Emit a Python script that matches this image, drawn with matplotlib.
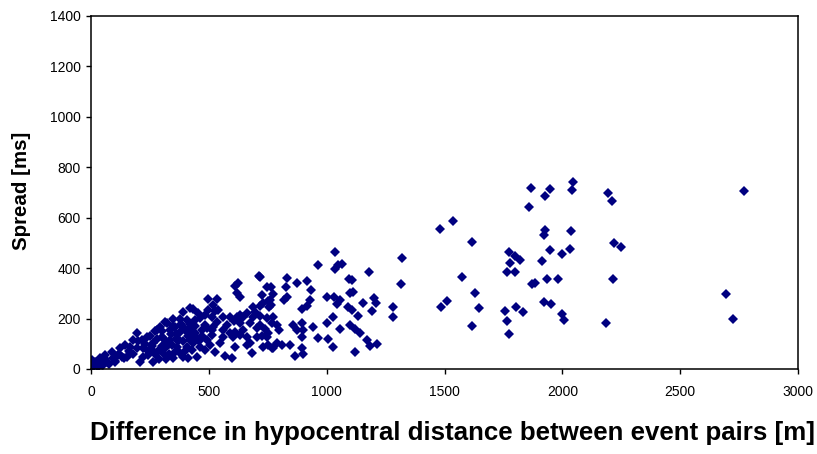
import matplotlib.pyplot as plt

plt.rcParams['font.family'] = ['Liberation Sans', 'DejaVu Sans']

# distance difference [m] and spread [ms]
dist = [
    1867, 1948, 1926, 2047, 2042, 2195, 2209, 1860, 1481, 1537,
    1926, 1922, 2035, 1615, 2220, 2249, 1948, 2033, 2000, 1774,
    1799, 1820, 1778, 1915, 1764, 1799, 1576, 1870, 1884, 1934,
    1983, 2214, 1629, 1509, 1485, 1648, 1922, 1952, 1757, 1803,
    1834, 1766, 2000, 2008, 2184, 1615, 1774, 2771, 2693, 2723,
    1321, 1314, 1280, 1283,
    1035, 962, 1049, 1035, 1064, 1181, 1096, 1106, 915, 873,
    830, 827, 748, 717, 932, 1099, 1113, 1000, 1031, 1057,
    1043, 929, 915, 894, 820, 830, 760, 757, 1201, 1209,
    1191, 1155, 1092, 1106, 1134, 1026, 717, 767, 799, 746,
    858, 894, 901, 873, 894, 943, 1000, 1057, 1099, 1120,
    1141, 1170, 1212, 964, 1007, 1028, 1120, 1184, 774, 809,
    844, 866, 901, 894,
    713, 625, 611, 618, 632, 762, 771, 750, 729, 764,
    533, 526, 434, 392, 561, 590, 618, 646, 661, 689,
    607, 632, 644, 703, 703, 724, 752, 661, 682, 604,
    611, 569, 597, 547, 561, 519, 533, 484, 463, 491,
    441, 434, 427, 449, 413, 392, 378, 364, 342, 321,
    314, 279, 300, 321, 264, 258, 264, 307, 356, 236,
    215, 194, 179, 194, 165, 144, 123, 116, 151, 88,
    95, 59, 67, 38, 17, 10, 31, 52, 5, 3,
    130, 102, 165, 222, 222, 208, 243, 314, 335, 364,
    378, 406, 420, 449, 463, 470, 491, 512, 505, 526,
    484, 392, 349, 420, 399, 512, 576, 590, 561, 675,
    689, 717, 746, 774, 788, 738, 788, 752, 729, 767,
    413, 434, 611, 632, 661, 675, 540, 519, 696, 717,
    724, 498, 484, 512, 455, 441, 406, 378, 356, 335,
    293, 498, 632,
    250, 280, 230, 270, 300, 330, 290, 360, 390, 410,
    440, 380, 350, 420, 300, 340, 160, 120, 75, 45,
    200, 260, 310, 350, 400, 430, 470, 240, 290, 330,
    370, 180, 140, 100, 60, 25, 460, 400, 320, 270,
]
spread = [
    719, 714, 686, 743, 710, 699, 666, 641, 555, 588,
    551, 531, 547, 502, 501, 483, 472, 475, 456, 463,
    448, 432, 422, 430, 386, 386, 366, 336, 342, 356,
    356, 356, 303, 271, 245, 243, 265, 258, 231, 245,
    225, 192, 218, 194, 181, 172, 138, 707, 297, 198,
    439, 336, 247, 207,
    465, 412, 412, 395, 415, 384, 356, 353, 350, 340,
    362, 326, 324, 366, 313, 303, 307, 287, 287, 274,
    258, 274, 250, 237, 274, 287, 274, 245, 280, 263,
    231, 261, 245, 234, 210, 205, 175, 181, 155, 128,
    175, 181, 155, 155, 128, 168, 181, 157, 175, 157,
    142, 115, 98, 122, 118, 86, 69, 91, 82, 95,
    95, 52, 59, 82,
    369, 340, 329, 300, 287, 324, 297, 271, 263, 254,
    276, 231, 239, 227, 205, 205, 207, 207, 221, 247,
    192, 181, 155, 161, 128, 131, 142, 95, 62, 126,
    86, 52, 42, 102, 155, 168, 188, 175, 201, 161,
    142, 102, 75, 49, 42, 168, 148, 122, 95, 181,
    188, 155, 128, 102, 102, 75, 29, 62, 69, 128,
    115, 142, 115, 82, 88, 95, 82, 56, 49, 69,
    42, 56, 29, 42, 29, 9, 9, 16, 23, 36,
    49, 29, 62, 82, 49, 29, 56, 82, 115, 88,
    62, 88, 115, 122, 88, 155, 115, 135, 95, 69,
    75, 49, 42, 241, 155, 155, 175, 142, 128, 181,
    205, 210, 201, 207, 175, 157, 102, 95, 86, 82,
    155, 135, 148, 135, 128, 102, 234, 254, 227, 250,
    293, 234, 214, 207, 223, 194, 194, 197, 168, 155,
    168, 278, 214,
    130, 120, 100, 60, 90, 60, 40, 140, 110, 130,
    170, 180, 200, 180, 150, 140, 70, 60, 20, 15,
    110, 90, 120, 170, 160, 150, 130, 70, 75, 100,
    110, 60, 45, 30, 40, 20, 110, 70, 40, 150,
]

x_ticks = [0, 500, 1000, 1500, 2000, 2500, 3000]
y_ticks = [0, 200, 400, 600, 800, 1000, 1200, 1400]

fig = plt.figure(figsize=(8.17, 4.54), dpi=100)
ax = fig.add_axes([91 / 817, 85 / 454, 707 / 817, 353 / 454])

ax.plot(dist, spread, linestyle='none', marker='D', markersize=5.0,
        color='#000080', markeredgewidth=0)

ax.set_xlim(0, 3000)
ax.set_ylim(0, 1400)
ax.set_xticks(x_ticks)
ax.set_yticks(y_ticks)
ax.tick_params(direction='out', length=3.5, width=1, labelsize=10, colors='black')
ax.tick_params(axis='x', pad=8)
ax.tick_params(axis='y', pad=4)
for s in ax.spines.values():
    s.set_linewidth(1.1)

fig.text(22 / 817, 1 - 191 / 454, 'Spread [ms]', rotation=90, fontsize=14.8,
         fontweight='bold', ha='center', va='center')
fig.text(452 / 817, 1 - 440 / 454,
         'Difference in hypocentral distance between event pairs [m]',
         fontsize=18.6, fontweight='bold', ha='center', va='baseline')

fig.savefig('out.png', dpi=100, facecolor='white')
